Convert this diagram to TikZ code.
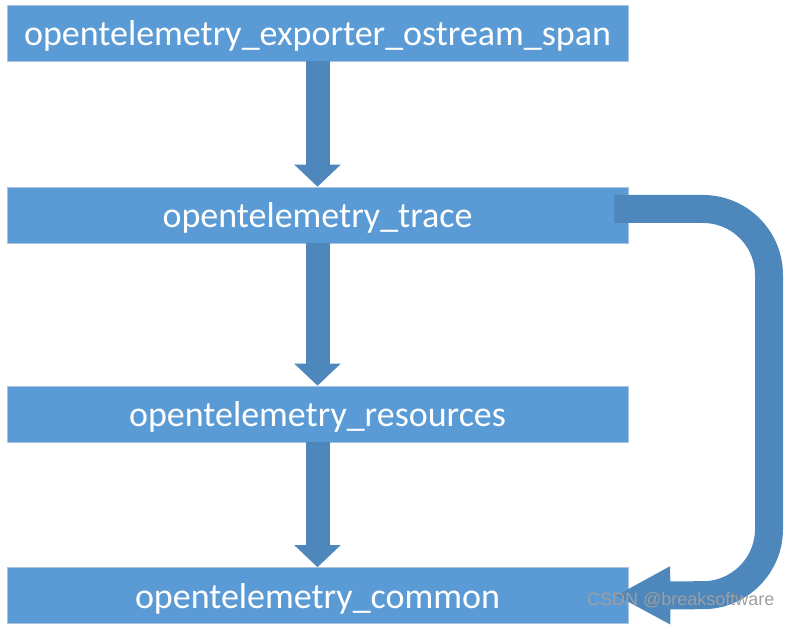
\documentclass[tikz,border=0pt]{standalone}
\usepackage{fontspec}
\setmainfont{Carlito}
\newfontfamily\markfont{Liberation Sans}
\usetikzlibrary{arrows.meta}
\definecolor{boxblue}{HTML}{5B9BD5}
\definecolor{arrowblue}{HTML}{4D87BC}
\definecolor{edgeblue}{HTML}{A9C4DE}
\begin{document}
\begin{tikzpicture}[x=1pt,y=-1pt,line join=round,
	libbox/.style={rectangle,fill=boxblue,draw=edgeblue,line width=0.6pt,minimum width=621pt,minimum height=56pt,inner sep=0pt,text depth=0pt,text=white,font=\fontsize{36}{42}\selectfont},
	blockarrow/.style={arrowblue,line width=24pt,-{Triangle[length=22pt,width=45pt]}}]
	\useasboundingbox (0,0) rectangle (792,636);
	% libraries, top to bottom
	\node[libbox] (exporter) at (317.5,33) {opentelemetry\_exporter\_ostream\_span};
	\node[libbox] (trace) at (317.5,215) {opentelemetry\_trace};
	\node[libbox] (resources) at (317.5,414) {opentelemetry\_resources};
	\node[libbox] (common) at (317.5,595.5) {opentelemetry\_common};
	% dependencies
	\draw[blockarrow] (exporter.south) -- (trace.north);
	\draw[blockarrow] (trace.south) -- (resources.north);
	\draw[blockarrow] (resources.south) -- (common.north);
	% trace also needs common
	\coordinate (loopstart) at ([xshift=-14pt,yshift=6pt]trace.east);
	\coordinate (looptip) at ([xshift=-13pt]common.east);
	\draw[arrowblue,line width=28pt,rounded corners=66pt,-{Triangle[length=55pt,width=54pt]}]
		(loopstart) -- (769,209) -- (769,595) -- (looptip);
	\node[font=\markfont\fontsize{18}{21}\selectfont,text=gray!75,anchor=east] (mark) at (778,600) {CSDN @breaksoftware};
\end{tikzpicture}
\end{document}
